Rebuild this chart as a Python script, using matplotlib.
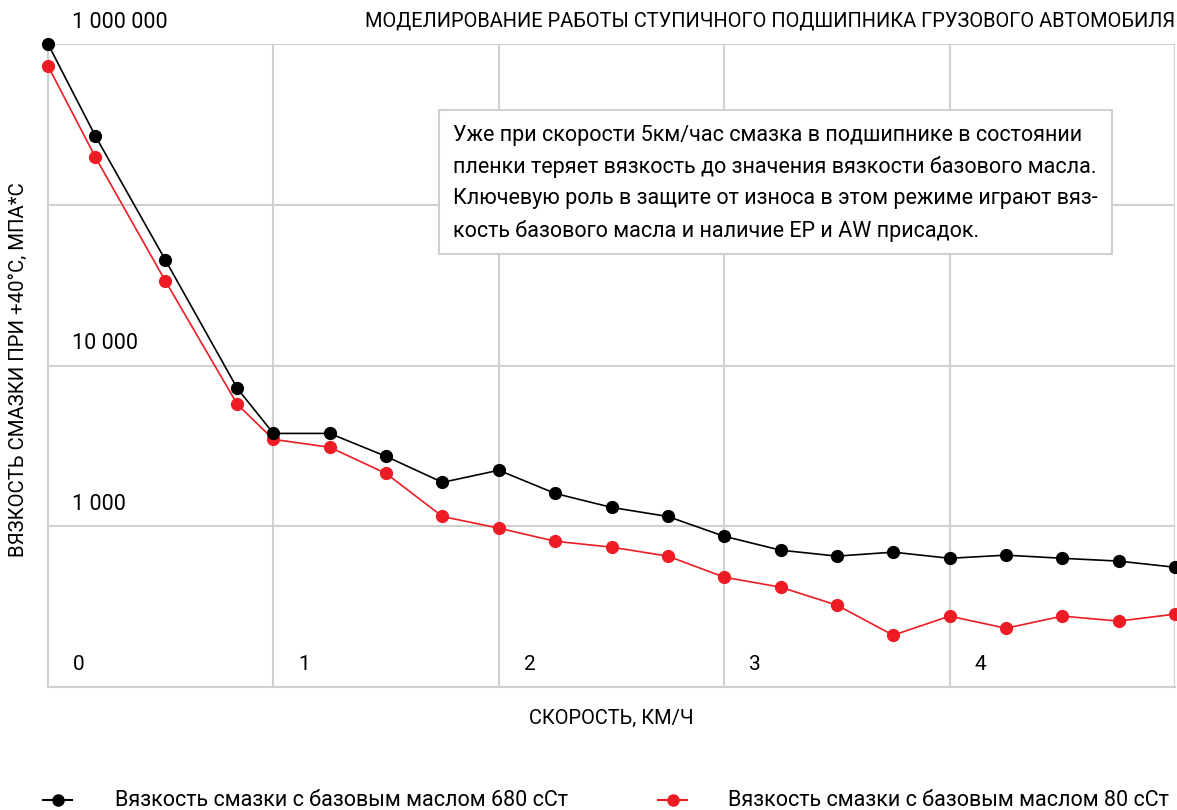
import matplotlib.pyplot as plt
from matplotlib.lines import Line2D
from matplotlib.patches import Rectangle
import matplotlib.transforms as mtransforms

plt.rcParams['font.family'] = ['Roboto', 'DejaVu Sans']

# данные
speed = [0, 0.21, 0.52, 0.84, 1.0, 1.25, 1.5, 1.75, 2.0, 2.25, 2.5, 2.75,
         3.0, 3.25, 3.5, 3.75, 4.0, 4.25, 4.5, 4.75, 5.0]
visc_680 = [1000000, 268000, 45500, 7200, 3780, 3780, 2720, 1875, 2230, 1600, 1310, 1150,
            866, 710, 652, 690, 632, 661, 632, 607, 556]
visc_80 = [730000, 198000, 33700, 5730, 3470, 3100, 2130, 1150, 973, 807, 741, 652,
           482, 418, 323, 210, 276, 232, 276, 257, 284]
y_labels = {1000000: '1 000 000', 10000: '10 000', 1000: '1 000'}
x_labels = [0, 1, 2, 3, 4]

title = 'МОДЕЛИРОВАНИЕ РАБОТЫ СТУПИЧНОГО ПОДШИПНИКА ГРУЗОВОГО АВТОМОБИЛЯ'
note = ('Уже при скорости 5км/час смазка в подшипнике в состоянии\n'
        'пленки теряет вязкость до значения вязкости базового масла.\n'
        'Ключевую роль в защите от износа в этом режиме играют вяз-\n'
        'кость базового масла и наличие EP и AW присадок.')
name_680 = 'Вязкость смазки с базовым маслом 680 сСт'
name_80 = 'Вязкость смазки с базовым маслом 80 сСт'

red = '#ed1c24'
grid = '#d0d0d0'
W, H = 1177, 810

fig = plt.figure(figsize=(11.77, 8.10), dpi=100)
ax = fig.add_axes([48 / W, 1 - 687 / H, 1127 / W, 643 / H])

ax.set_yscale('log')
ax.set_ylim(100, 1000000)
ax.set_xlim(0, 5)
ax.set_yticks([100, 1000, 10000, 100000, 1000000])
ax.set_xticks([0, 1, 2, 3, 4, 5])
ax.minorticks_off()
ax.tick_params(length=0, labelleft=False, labelbottom=False)
ax.grid(True, color=grid, linewidth=1.5)
ax.set_axisbelow(True)
for s in ['top', 'right']:
    ax.spines[s].set_visible(False)
for s in ['left', 'bottom']:
    ax.spines[s].set_color(grid)
    ax.spines[s].set_linewidth(1.5)

ax.plot(speed, visc_680, color='black', lw=1.2, marker='o', ms=8.5, clip_on=False, zorder=4)
ax.plot(speed, visc_80, color=red, lw=1.2, marker='o', ms=8.5, clip_on=False, zorder=3)

# подписи оси Y внутри поля
for v, lab in y_labels.items():
    tr = mtransforms.offset_copy(ax.transData, fig=fig, x=24, y=22, units='dots')
    ax.text(0, v, lab, transform=tr, fontsize=15.5, ha='left', va='center', clip_on=False)

# подписи оси X внутри поля
for v in x_labels:
    tr = mtransforms.offset_copy(ax.transData, fig=fig, x=25, y=22, units='dots')
    ax.text(v, 100, str(v), transform=tr, fontsize=15, ha='left', va='center')

fig.text(1175 / W, 1 - 21 / H, title, ha='right', va='center', fontsize=14.4)
fig.text(611 / W, 1 - 718 / H, 'СКОРОСТЬ, КМ/Ч', ha='center', va='center', fontsize=14.4)
fig.text(18 / W, 1 - 370 / H, 'ВЯЗКОСТЬ СМАЗКИ ПРИ +40°С, МПА*С', ha='center', va='center',
         rotation=90, fontsize=14.7)

# блок с пояснением
fig.add_artist(Rectangle((439 / W, 1 - 254 / H), 673 / W, 144 / H, transform=fig.transFigure,
                         fc='white', ec=grid, lw=1.5, zorder=5))
fig.text(453 / W, 1 - 183 / H, note, ha='left', va='center', fontsize=15.5, linespacing=1.62,
         zorder=6)

# легенда
ly = 1 - 800 / H
fig.add_artist(Line2D([43 / W, 72 / W], [ly, ly], color='black', lw=1.5, transform=fig.transFigure))
fig.add_artist(Line2D([58 / W], [ly], color='black', marker='o', ms=8, transform=fig.transFigure))
fig.text(115 / W, ly, name_680, ha='left', va='center', fontsize=15.5)
fig.add_artist(Line2D([658 / W, 687 / W], [ly, ly], color=red, lw=1.5, transform=fig.transFigure))
fig.add_artist(Line2D([673 / W], [ly], color=red, marker='o', ms=8, transform=fig.transFigure))
fig.text(728 / W, ly, name_80, ha='left', va='center', fontsize=15.5)

fig.savefig('out.png', dpi=100)
